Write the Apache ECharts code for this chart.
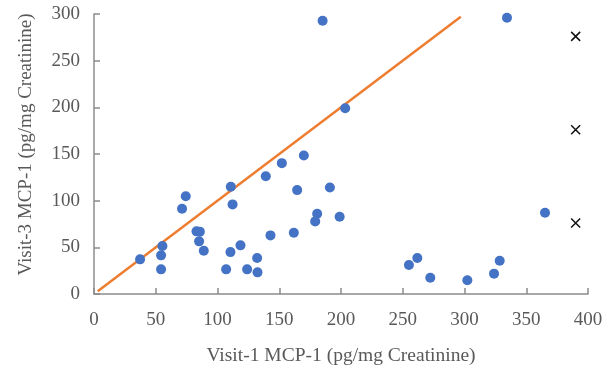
<!DOCTYPE html>
<html>
<head>
<meta charset="utf-8">
<script src="https://cdn.jsdelivr.net/npm/echarts@6/dist/echarts.min.js"></script>
<style>html,body{margin:0;padding:0;background:#fff;}#c{width:612px;height:371px;}</style>
</head>
<body>
<div id="c"></div>
<script>
var visit1 = [37.3, 54.3, 54.3, 55.4, 71.3, 74.3, 83.0, 85.7, 85.1, 88.9, 110.8, 112.2, 110.5, 107.0, 118.6, 124.0, 132.1, 132.4, 142.9, 161.8, 164.5, 139.1, 152.1, 169.9, 185.1, 334.4, 203.4, 191.0, 180.7, 179.1, 198.9, 365.2, 255.0, 261.8, 272.3, 302.3, 323.9, 328.5];
var visit3 = [37.1, 26.4, 41.4, 51.4, 91.4, 104.8, 67.1, 66.8, 56.4, 46.4, 114.9, 96.0, 44.9, 26.4, 52.1, 26.4, 38.5, 23.2, 62.8, 65.7, 111.3, 126.2, 140.2, 148.4, 292.8, 296.0, 199.0, 114.2, 86.0, 77.8, 82.8, 87.1, 31.0, 38.5, 17.5, 14.7, 21.8, 35.7];
var lineX = [3, 297];
var lineY = [3, 297];
var crossX = [390, 390, 390];
var crossY = [276, 176, 76];
var xTicks = [0, 50, 100, 150, 200, 250, 300, 350, 400];
var yTicks = [0, 50, 100, 150, 200, 250, 300];

var pts = visit1.map(function (v, i) { return [v, visit3[i]]; });
var linePts = lineX.map(function (v, i) { return [v, lineY[i]]; });
var crossPts = crossX.map(function (v, i) { return [v, crossY[i]]; });

var font = '"Liberation Serif", "DejaVu Serif", serif';
var axisCol = '#8c8c8c';
var chart = echarts.init(document.getElementById('c'), null, {renderer: 'canvas'});
chart.setOption({
  animation: false,
  grid: {left: 94, right: 24, top: 14, bottom: 76, containLabel: false},
  xAxis: {
    type: 'value', min: xTicks[0], max: xTicks[xTicks.length - 1], interval: 50,
    name: 'Visit-1 MCP-1 (pg/mg Creatinine)', nameLocation: 'middle', nameGap: 52,
    nameTextStyle: {fontFamily: font, fontSize: 19.5, color: '#595959'},
    axisLine: {show: true, lineStyle: {color: axisCol, width: 1.5}},
    axisTick: {show: true, inside: true, length: 6, lineStyle: {color: axisCol, width: 1.5}},
    axisLabel: {fontFamily: font, fontSize: 19, color: '#595959', margin: 17},
    splitLine: {show: false}
  },
  yAxis: {
    type: 'value', min: yTicks[0], max: yTicks[yTicks.length - 1], interval: 50,
    name: 'Visit-3 MCP-1 (pg/mg Creatinine)', nameLocation: 'middle', nameGap: 58,
    nameTextStyle: {fontFamily: font, fontSize: 19, color: '#595959', padding: [0, 0, 0, 19]},
    axisLine: {show: true, lineStyle: {color: axisCol, width: 1.5}},
    axisTick: {show: true, inside: true, length: 6, lineStyle: {color: axisCol, width: 1.5}},
    axisLabel: {fontFamily: font, fontSize: 19, color: '#595959', margin: 14},
    splitLine: {show: false}
  },
  series: [
    {
      type: 'line', data: linePts, showSymbol: false, symbol: 'none',
      lineStyle: {color: '#ED7D31', width: 2.5}, z: 2, silent: true
    },
    {
      type: 'scatter', data: pts, symbol: 'circle', symbolSize: 10,
      itemStyle: {color: '#4472C4', opacity: 1}, z: 3, silent: true
    },
    {
      type: 'scatter', data: crossPts, symbol: 'path://M0,0L10,10M10,0L0,10', symbolSize: 9,
      itemStyle: {color: 'none', borderColor: '#111', borderWidth: 1.5, opacity: 1}, z: 3, silent: true
    }
  ]
});
</script>
</body>
</html>
